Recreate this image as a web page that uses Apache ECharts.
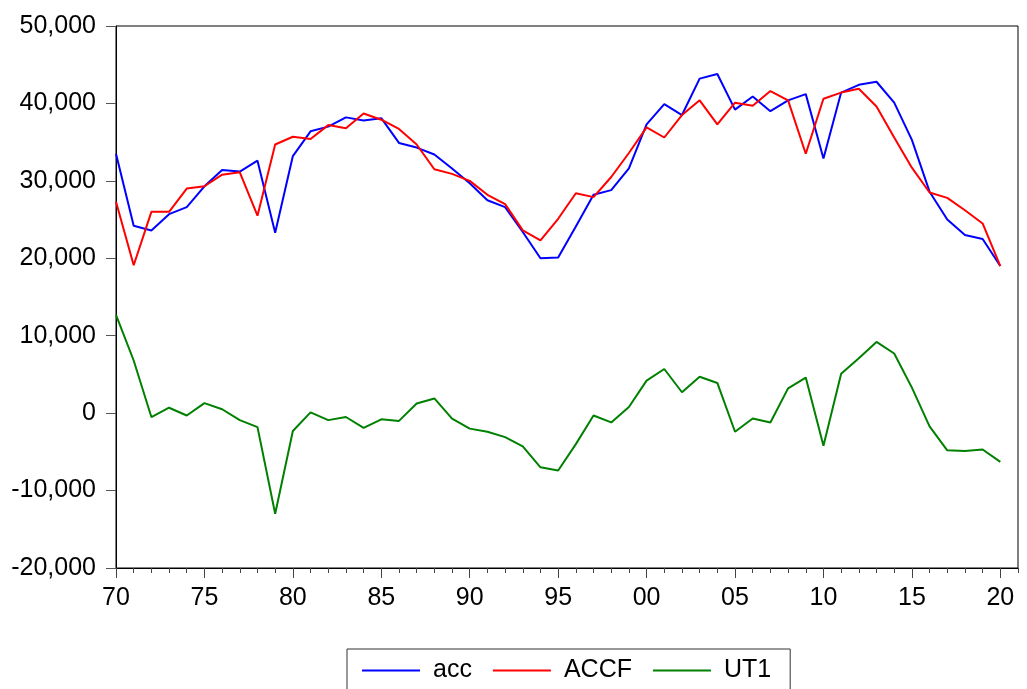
<!DOCTYPE html>
<html>
<head>
<meta charset="utf-8">
<script src="https://cdn.jsdelivr.net/npm/echarts@6/dist/echarts.min.js"></script>
<style>
html,body{margin:0;padding:0;background:#fff;}
#chart{width:1027px;height:689px;}
</style>
</head>
<body>
<div id="chart"></div>
<script>
var years = [1970,1971,1972,1973,1974,1975,1976,1977,1978,1979,
             1980,1981,1982,1983,1984,1985,1986,1987,1988,1989,
             1990,1991,1992,1993,1994,1995,1996,1997,1998,1999,
             2000,2001,2002,2003,2004,2005,2006,2007,2008,2009,
             2010,2011,2012,2013,2014,2015,2016,2017,2018,2019,2020];
var acc = [33500,24200,23600,25700,26600,29300,31400,31200,32600,23300,
           33200,36400,37000,38200,37800,38100,34900,34300,33400,31600,
           29700,27500,26600,23400,20000,20100,24100,28200,28800,31600,
           37300,39900,38500,43200,43800,39200,40900,39000,40400,41200,
           32900,41400,42400,42800,40100,35300,28600,25000,23000,22500,19000];
var accf = [27300,19100,26000,26000,29000,29300,30800,31100,25500,34700,
            35700,35400,37200,36800,38700,37900,36700,34700,31500,30900,
            30000,28200,27000,23600,22300,25100,28400,27900,30500,33600,
            36900,35600,38500,40400,37300,40100,39700,41600,40400,33500,
            40600,41400,41900,39600,35600,31700,28500,27800,26200,24500,19000];
var ut1 = [12700,6800,-500,700,-300,1300,500,-900,-1800,-13000,
           -2300,100,-900,-500,-1900,-800,-1000,1250,1900,-700,
           -2000,-2400,-3100,-4300,-7000,-7400,-4000,-300,-1200,800,
           4200,5700,2700,4700,3900,-2400,-700,-1200,3200,4600,
           -4200,5100,7100,9200,7700,3300,-1700,-4800,-4900,-4700,-6300];
var majorYears = [1970,1975,1980,1985,1990,1995,2000,2005,2010,2015,2020];
var seriesNames = ['acc','ACCF','UT1'];
var yTicks = {min: -20000, max: 50000, step: 10000};
var xRange = {min: 1970, max: 2021};

function pairs(vals){ return years.map(function(y,i){ return [y, vals[i]]; }); }
function yearLabel(v){ var s = String(v % 100); return s.length < 2 ? '0' + s : s; }

var font = 'Liberation Sans, Arial, sans-serif';
var chart = echarts.init(document.getElementById('chart'), null, {renderer:'canvas'});
chart.setOption({
  animation: false,
  backgroundColor: '#ffffff',
  grid: {left:116, right:9, top:26, bottom:121, show:true, borderColor:'#000', borderWidth:1, backgroundColor:'transparent'},
  xAxis: [{
    type:'value', min:xRange.min, max:xRange.max, interval:1, position:'bottom',
    axisLine:{show:true, onZero:false, lineStyle:{color:'#000', width:1}},
    axisTick:{show:true, inside:false, length:5, lineStyle:{color:'#444'}},
    axisLabel:{show:false},
    splitLine:{show:false}
  },{
    type:'value', min:xRange.min, max:xRange.max, position:'bottom', gridIndex:0,
    axisLine:{show:false, onZero:false},
    axisTick:{show:true, inside:false, length:10, customValues: majorYears, lineStyle:{color:'#444'}},
    axisLabel:{show:true, customValues: majorYears, margin:18, color:'#000', fontSize:25, fontFamily:font,
      formatter: function(v){ return yearLabel(v); }},
    splitLine:{show:false}
  }],
  yAxis: {
    type:'value', min:yTicks.min, max:yTicks.max, interval:yTicks.step,
    axisLine:{show:true, onZero:false, lineStyle:{color:'#000', width:1}},
    axisTick:{show:true, inside:false, length:10, lineStyle:{color:'#555'}},
    axisLabel:{margin:20, color:'#000', fontSize:25, fontFamily:font},
    splitLine:{show:false}
  },
  legend: {
    data: seriesNames,
    left: 347, top: 649,
    padding: [9, 19, 40, 15],
    borderColor: '#333', borderWidth: 1,
    itemGap: 21, itemWidth: 58, itemHeight: 2, icon: 'rect',
    textStyle: {fontSize:25, fontFamily:font, color:'#000', padding:[0,0,0,8]}
  },
  series: [
    {name:seriesNames[0], type:'line', xAxisIndex:0, data:pairs(acc), symbol:'none', lineStyle:{color:'#0000ff', width:2}, itemStyle:{color:'#0000ff'}},
    {name:seriesNames[1], type:'line', xAxisIndex:0, data:pairs(accf), symbol:'none', lineStyle:{color:'#ff0000', width:2}, itemStyle:{color:'#ff0000'}},
    {name:seriesNames[2], type:'line', xAxisIndex:0, data:pairs(ut1), symbol:'none', lineStyle:{color:'#008000', width:2}, itemStyle:{color:'#008000'}}
  ]
});
</script>
</body>
</html>
